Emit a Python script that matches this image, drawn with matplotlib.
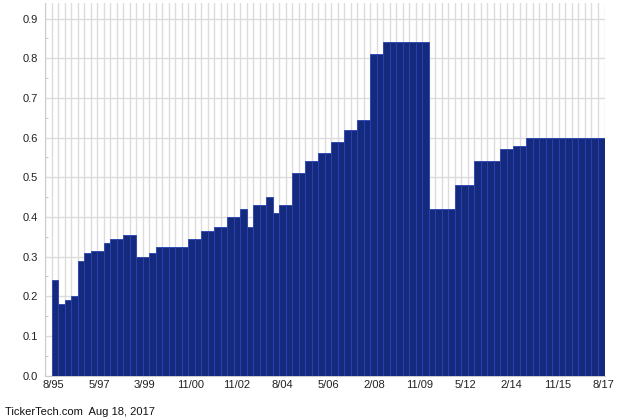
import matplotlib
matplotlib.use('Agg')
import matplotlib.pyplot as plt
import numpy as np
from matplotlib.ticker import MultipleLocator

plt.rcParams['font.family'] = ['Liberation Sans', 'DejaVu Sans']

# dividend per payment, oldest first (first entry is the empty start bar)
divs = [0.0,
        0.24, 0.18, 0.19, 0.20, 0.29, 0.31, 0.315, 0.315, 0.335, 0.345,
        0.345, 0.355, 0.355, 0.30, 0.30, 0.31, 0.325, 0.325, 0.325, 0.325,
        0.325, 0.345, 0.345, 0.365, 0.365, 0.375, 0.375, 0.40, 0.40, 0.42,
        0.375, 0.43, 0.43, 0.45, 0.41, 0.43, 0.43, 0.51, 0.51, 0.54,
        0.54, 0.56, 0.56, 0.59, 0.59, 0.62, 0.62, 0.645, 0.645, 0.81,
        0.81, 0.84, 0.84, 0.84, 0.84, 0.84, 0.84, 0.84, 0.42, 0.42,
        0.42, 0.42, 0.48, 0.48, 0.48, 0.54, 0.54, 0.54, 0.54, 0.57,
        0.57, 0.58, 0.58, 0.60, 0.60, 0.60, 0.60, 0.60, 0.60, 0.60,
        0.60, 0.60, 0.60, 0.60, 0.60]
xlabels = ['8/95', '5/97', '3/99', '11/00', '11/02', '8/04', '5/06',
           '2/08', '11/09', '5/12', '2/14', '11/15', '8/17']
footer = 'TickerTech.com  Aug 18, 2017'

n = len(divs)
idx = np.arange(n)

fig = plt.figure(figsize=(6.4, 4.2), dpi=100)
ax = fig.add_axes([45.3/640, 44.4/420, (604.5-45.3)/640, 372.9/420])

ax.bar(idx, divs, width=1.0, align='edge', color='#152a7c',
       edgecolor='#2642b4', linewidth=0.6, zorder=3)

ax.set_xlim(0, n)
ax.set_ylim(0, 0.94)

# gridlines at every bar boundary and every 0.1
for xv in range(n + 1):
    ax.axvline(xv, color='#dcdcdc', lw=1.0, zorder=1)
ax.yaxis.set_major_locator(MultipleLocator(0.1))
ax.yaxis.set_minor_locator(MultipleLocator(0.05))
ax.grid(axis='y', color='#dcdcdc', lw=1.0, zorder=1)
ax.set_axisbelow(True)
ax.yaxis.set_major_formatter(matplotlib.ticker.FormatStrFormatter('%.1f'))

ax.set_xticks(np.linspace(1.2, n - 0.2, len(xlabels)))
ax.set_xticklabels(xlabels)

ax.tick_params(axis='both', which='major', length=0, labelsize=8, colors='#222222')
ax.tick_params(axis='y', which='major', pad=5)
ax.tick_params(axis='x', which='major', pad=3.5)
ax.tick_params(axis='y', which='minor', direction='in', length=2.5, color='#bbbbbb')

for s in ['top', 'right']:
    ax.spines[s].set_visible(False)
ax.spines['left'].set_color('#cccccc')
ax.spines['bottom'].set_color('#cccccc')

fig.text(5/640, 1 - 412/420, footer, fontsize=8, color='#111111', va='center', ha='left')

fig.savefig('out.png', dpi=100)
